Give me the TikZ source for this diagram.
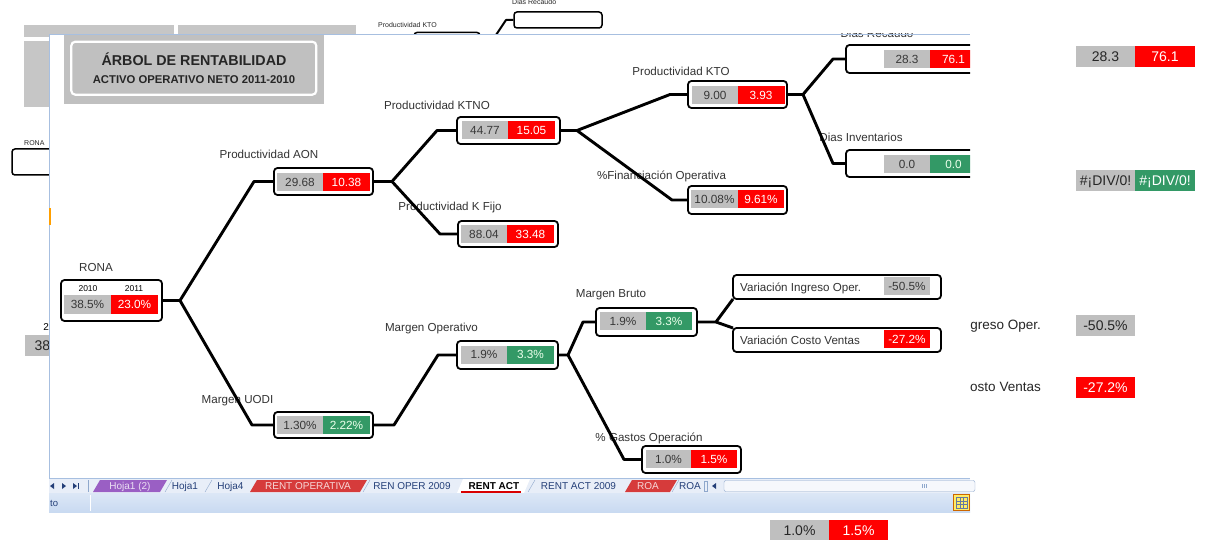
\documentclass[tikz,border=0pt]{standalone}
\usepackage{fontspec}
\setmainfont{Liberation Sans}
\definecolor{cellgray}{HTML}{BFBFBF}
\definecolor{cellred}{HTML}{FF0000}
\definecolor{cellgreen}{HTML}{339966}
\definecolor{wborder}{HTML}{A7BFE0}
\definecolor{tabbg}{HTML}{E8EEF8}
\definecolor{stattop}{HTML}{DCE7F6}
\definecolor{statbot}{HTML}{C9DAF1}
\definecolor{tabtext}{HTML}{243F78}
\definecolor{tabpurple}{HTML}{9A5FC4}
\definecolor{tabred}{HTML}{D63B3B}
\definecolor{titlegray}{HTML}{C0C0C0}
\definecolor{sheetgray}{HTML}{C6C6C6}
\definecolor{tabsep}{HTML}{8FA8CC}
\begin{document}
\begin{tikzpicture}[x=1pt,y=-1pt,
  tbox/.style={draw=black, line width=1.8pt, rounded corners=3.5pt, fill=white, inner sep=0pt, outer sep=0pt},
  cellbase/.style={inner sep=0pt, outer sep=0pt, minimum height=18pt, text height=8.4pt, text depth=0pt, font=\fontsize{11.8}{12}\selectfont},
  gcell/.style={cellbase, fill=cellgray, text=black!78, minimum width=46pt},
  rcell/.style={cellbase, fill=cellred, text=white, minimum width=47pt},
  ecell/.style={cellbase, fill=cellgreen, text=white!92!green, minimum width=47pt},
  lbl/.style={inner sep=0pt, text height=8.3pt, text depth=0pt, text=black!80, font=\fontsize{11.6}{12}\selectfont},
  conn/.style={line width=2.9pt, line join=round},
  bigcell/.style={inner sep=0pt, minimum width=59pt, minimum height=21pt, text height=10pt, text depth=0pt, font=\fontsize{14}{15}\selectfont, text=black!85},
  bigtxt/.style={inner sep=0pt, text height=9.7pt, text depth=0pt, font=\fontsize{13.5}{14}\selectfont, text=black!85},
  tiny/.style={inner sep=0pt, text height=5pt, text depth=0pt, font=\fontsize{7}{8}\selectfont, text=black!85},
  tabtxt/.style={inner sep=0pt, text height=7.2pt, text depth=0pt, font=\fontsize{10}{11}\selectfont, text=tabtext},
]
\useasboundingbox (0,0) rectangle (1205,540);

% ---------------- sheet behind the window ----------------
\fill[sheetgray] (24,25) rectangle (174,37);
\fill[sheetgray] (178,25) rectangle (356,37);
\fill[sheetgray] (24,41) rectangle (49,107);
\node[tiny, anchor=west] (bgKTO) at (378,25) {Productividad KTO};
\node[tiny, anchor=west] (bgDR) at (512,2) {Dias Recaudo};
\node[draw=black, line width=1.5pt, rounded corners=3pt, minimum width=88pt, minimum height=16pt, inner sep=0pt] (bgBox) at (558,20) {};
\node[draw=black, line width=1.5pt, rounded corners=3pt, minimum width=66pt, minimum height=22pt, inner sep=0pt] (bgKbox) at (447,43.5) {};
\coordinate (bgJ) at (506,20);
\coordinate (bgS) at (490,44);
\draw[line width=2pt, line join=round] (bgS) -- (bgJ) -- (bgBox.west);
\node[tiny, anchor=west] (bgRONA) at (24,143) {RONA};
\node[draw=black, line width=1.5pt, rounded corners=3pt, minimum width=48pt, minimum height=26pt, inner sep=0pt] (bgRbox) at (36,162) {};
\node[inner sep=0pt, font=\fontsize{10}{11}\selectfont, text height=7pt, text depth=0pt] (bg2010) at (54.5,327) {2010};
\node[bigcell, fill=cellgray] (bg38) at (54.5,345.5) {38.5\%};

% right hand cells
\node[bigcell, fill=cellgray] (r1a) at (1105.5,56.5) {28.3};
\node[bigcell, fill=cellred, text=white, minimum width=60pt] (r1b) at (1165,56.5) {76.1};
\node[bigcell, fill=cellgray] (r2a) at (1105.5,180.5) {\#¡DIV/0!};
\node[bigcell, fill=cellgreen, text=white, minimum width=60pt] (r2b) at (1165,180.5) {\#¡DIV/0!};
\node[bigtxt, anchor=east] (r3t) at (1041,325) {Variación Ingreso Oper.};
\node[bigcell, fill=cellgray] (r3) at (1105.5,325) {-50.5\%};
\node[bigtxt, anchor=east] (r4t) at (1041,387) {Variación Costo Ventas};
\node[bigcell, fill=cellred, text=white] (r4) at (1105.5,387) {-27.2\%};
\node[bigcell, fill=cellgray] (b1) at (799.5,530.5) {1.0\%};
\node[bigcell, fill=cellred, text=white] (b2) at (858.5,530.5) {1.5\%};

% ---------------- the window ----------------
\fill[white] (49,34) rectangle (970,512);

\begin{scope}
\clip (49,34) rectangle (970,478);
% title
\fill[titlegray] (64,34) rectangle (324,104);
\node[draw=white, line width=2.2pt, fill=titlegray, rounded corners=4pt, minimum width=245pt, minimum height=53pt, inner sep=0pt] (titlebox) at (193.8,68.2) {};
\node[inner sep=0pt, text height=10.2pt, text depth=0pt, font=\bfseries\fontsize{14.3}{15}\selectfont, text=black!85] (title1) at (194,60.5) {ÁRBOL DE RENTABILIDAD};
\node[inner sep=0pt, text height=8.1pt, text depth=0pt, font=\bfseries\fontsize{11.3}{12}\selectfont, text=black!85] (title2) at (194,79) {ACTIVO OPERATIVO NETO 2011-2010};

% labels
\node[lbl] (lRONA) at (96,267) {RONA};
\node[lbl] (lAON) at (269,154.5) {Productividad AON};
\node[lbl] (lUODI) at (237.5,399) {Margen UODI};
\node[lbl] (lKTNO) at (437,105.5) {Productividad KTNO};
\node[lbl] (lKF) at (450,206) {Productividad K Fijo};
\node[lbl] (lKTO) at (681,71) {Productividad KTO};
\node[lbl] (lFIN) at (661.5,175) {\%Financiación Operativa};
\node[lbl] (lDR) at (877,33) {Dias Recaudo};
\node[lbl] (lDI) at (861,137) {Dias Inventarios};
\node[lbl] (lMOP) at (431.5,327) {Margen Operativo};
\node[lbl] (lMBR) at (611,293) {Margen Bruto};
\node[lbl] (lGAS) at (649,437) {\% Gastos Operación};

% boxes
\node[tbox, minimum width=101pt, minimum height=41pt] (rona) at (111.5,300.5) {};
\node[tbox, minimum width=99pt, minimum height=27pt] (aon) at (323.5,181.5) {};
\node[tbox, minimum width=99pt, minimum height=26pt] (uodi) at (323.5,425) {};
\node[tbox, minimum width=103pt, minimum height=27pt] (ktno) at (508.5,130.5) {};
\node[tbox, minimum width=100pt, minimum height=26pt] (kfijo) at (508,234) {};
\node[tbox, minimum width=99pt, minimum height=27pt] (kto) at (737.5,94.5) {};
\node[tbox, minimum width=99pt, minimum height=28pt] (fin) at (737.5,200) {};
\node[tbox, minimum width=154pt, minimum height=28pt] (drec) at (923,59) {};
\node[tbox, minimum width=154pt, minimum height=27pt] (dinv) at (923,163.5) {};
\node[tbox, minimum width=101pt, minimum height=28pt] (mop) at (507.5,355) {};
\node[tbox, minimum width=101pt, minimum height=28pt] (mbr) at (646.5,322) {};
\node[tbox, minimum width=208pt, minimum height=24pt] (vio) at (837,287) {};
\node[tbox, minimum width=208pt, minimum height=24pt] (vcv) at (837,340) {};
\node[tbox, minimum width=99pt, minimum height=27pt] (gas) at (691.5,459.5) {};

% cells
\node[inner sep=0pt, font=\fontsize{8.5}{9}\selectfont, text height=6.1pt, text depth=0pt] (y10) at (88,288.5) {2010};
\node[inner sep=0pt, font=\fontsize{8.5}{9}\selectfont, text height=6.1pt, text depth=0pt] (y11) at (134,288.5) {2011};
\node[gcell, minimum width=47pt, minimum height=19pt] (ronaA) at (87.5,304.5) {38.5\%};
\node[rcell, minimum height=19pt] (ronaB) at (134.5,304.5) {23.0\%};
\node[gcell] (aonA) at (300,182) {29.68};
\node[rcell] (aonB) at (346.5,182) {10.38};
\node[gcell] (uodiA) at (300,425) {1.30\%};
\node[ecell] (uodiB) at (346.5,425) {2.22\%};
\node[gcell] (ktnoA) at (485,130.5) {44.77};
\node[rcell] (ktnoB) at (531.5,130.5) {15.05};
\node[gcell] (kfA) at (484,234) {88.04};
\node[rcell] (kfB) at (530.5,234) {33.48};
\node[gcell] (ktoA) at (715,95) {9.00};
\node[rcell] (ktoB) at (761,95) {3.93};
\node[gcell, minimum width=47pt] (finA) at (714.5,199) {10.08\%};
\node[rcell, minimum width=46pt] (finB) at (761,199) {9.61\%};
\node[gcell] (drA) at (907,59.5) {28.3};
\node[rcell] (drB) at (953.5,59.5) {76.1};
\node[gcell] (diA) at (907,164.5) {0.0};
\node[ecell] (diB) at (953.5,164.5) {0.0};
\node[gcell] (mopA) at (484,354.5) {1.9\%};
\node[ecell] (mopB) at (530.5,354.5) {3.3\%};
\node[gcell] (mbrA) at (623,321) {1.9\%};
\node[ecell, minimum width=46pt] (mbrB) at (669,321) {3.3\%};
\node[lbl, anchor=west] (vioT) at (740,287) {Variación Ingreso Oper.};
\node[gcell] (vioA) at (907,286) {-50.5\%};
\node[lbl, anchor=west] (vcvT) at (740,340) {Variación Costo Ventas};
\node[rcell, minimum width=46pt] (vcvA) at (907,339) {-27.2\%};
\node[gcell, minimum width=45pt] (gasA) at (668.5,459) {1.0\%};
\node[rcell, minimum width=46pt] (gasB) at (714,459) {1.5\%};

% connectors
\coordinate (jR) at (180,300.5);
\coordinate (aR) at (254,181.5);
\coordinate (uR) at (252,425);
\draw[conn] (rona.east) -- (jR) -- (aR) -- (aon.west);
\draw[conn] (jR) -- (uR) -- (uodi.west);
\coordinate (jA) at (392,181.5);
\coordinate (kR) at (437,130.5);
\coordinate (fR) at (440,234);
\draw[conn] (aon.east) -- (jA) -- (kR) -- (ktno.west);
\draw[conn] (jA) -- (fR) -- (kfijo.west);
\coordinate (jU) at (394,425);
\coordinate (mR) at (438,355);
\draw[conn] (uodi.east) -- (jU) -- (mR) -- (mop.west);
\coordinate (jK) at (577,130.5);
\coordinate (toR) at (670,94.5);
\coordinate (fiR) at (672,200);
\draw[conn] (ktno.east) -- (jK) -- (toR) -- (kto.west);
\draw[conn] (jK) -- (fiR) -- (fin.west);
\coordinate (jT) at (803,94.5);
\coordinate (drR) at (833,59);
\coordinate (diR) at (833,163.5);
\draw[conn] (kto.east) -- (jT) -- (drR) -- (drec.west);
\draw[conn] (jT) -- (diR) -- (dinv.west);
\coordinate (jM) at (568,355);
\coordinate (bR) at (583,322);
\coordinate (gR) at (624,459.5);
\draw[conn] (mop.east) -- (jM) -- (bR) -- (mbr.west);
\draw[conn] (jM) -- (gR) -- (gas.west);
\coordinate (jB) at (716,322);
\draw[conn] (mbr.east) -- (jB) -- (vio.south west);
\draw[conn] (jB) -- (vcv.north west);
\end{scope}

% window frame
\draw[wborder, line width=1pt] (49.5,512) -- (49.5,34.5) -- (970,34.5);
\fill[orange!75!yellow] (48.5,208) rectangle (50.5,225);

% sheet tab bar
\fill[tabbg] (49,478) rectangle (970,493);
\draw[wborder] (49,478.5) -- (970,478.5);
\fill[tabtext] (50,486) -- (54,483) -- (54,489) -- cycle;
\fill[tabtext] (62,483) -- (66,486) -- (62,489) -- cycle;
\fill[tabtext] (73,483) -- (77,486) -- (73,489) -- cycle;
\fill[tabtext] (78,483) rectangle (79,489);
\draw[tabsep] (88,480) -- (88,492);
\fill[tabpurple] (93,492) -- (100,480) -- (167,480) -- (160,492) -- cycle;
\node[tabtxt, text=white!80!tabpurple] (tab1) at (130,486) {Hoja1 (2)};
\draw[tabsep] (165,492) -- (172,480);
\node[tabtxt] (tab2) at (185,486) {Hoja1};
\draw[tabsep] (205,492) -- (212,480);
\node[tabtxt] (tab3) at (230.5,486) {Hoja4};
\fill[tabred] (250,492) -- (257,480) -- (367,480) -- (360,492) -- cycle;
\node[tabtxt, text=white!80!tabred] (tab4) at (308,486) {RENT OPERATIVA};
\draw[tabsep] (363,492) -- (370,480);
\node[tabtxt] (tab5) at (412,486) {REN OPER 2009};
\fill[white] (457,493) -- (463,479) -- (530,479) -- (524,493) -- cycle;
\draw[red!85!black, line width=2pt] (461,491.5) -- (521,491.5);
\node[tabtxt, text=black, font=\bfseries\fontsize{10}{11}\selectfont] (tab6) at (494,486) {RENT ACT};
\draw[tabsep] (528,492) -- (535,480);
\node[tabtxt] (tab7) at (578.5,486) {RENT ACT 2009};
\fill[tabred] (625,492) -- (632,480) -- (677,480) -- (670,492) -- cycle;
\node[tabtxt, text=white!80!tabred] (tab8) at (648,486) {ROA};
\draw[tabsep] (672,492) -- (679,480);
\node[tabtxt] (tab9) at (690,486) {ROA};
\draw[tabsep] (704,481) rectangle (707,491);
\fill[tabtext] (712,486) -- (716,483) -- (716,489) -- cycle;
\draw[tabsep, fill=white!60!tabbg, rounded corners=2pt] (724,480.5) rectangle (975,491.5);
\foreach \gx in {922,924,926} \draw[tabsep] (\gx,484) -- (\gx,488);

% status bar
\shade[top color=stattop, bottom color=statbot] (49,493) rectangle (970,512);
\node[tabtxt, anchor=west, font=\fontsize{9.5}{10}\selectfont] (stat) at (50,503) {to};
\draw[white] (90,495) -- (90,511);
\draw[orange!80!black, fill=orange!25!yellow!60] (953.5,494.5) rectangle (969.5,510.5);
\draw[tabtext!70] (956,497) rectangle (967,508);
\draw[tabtext!70] (956,500.7) -- (967,500.7) (956,504.3) -- (967,504.3) (959.7,497) -- (959.7,508) (963.3,497) -- (963.3,508);
\end{tikzpicture}
\end{document}
